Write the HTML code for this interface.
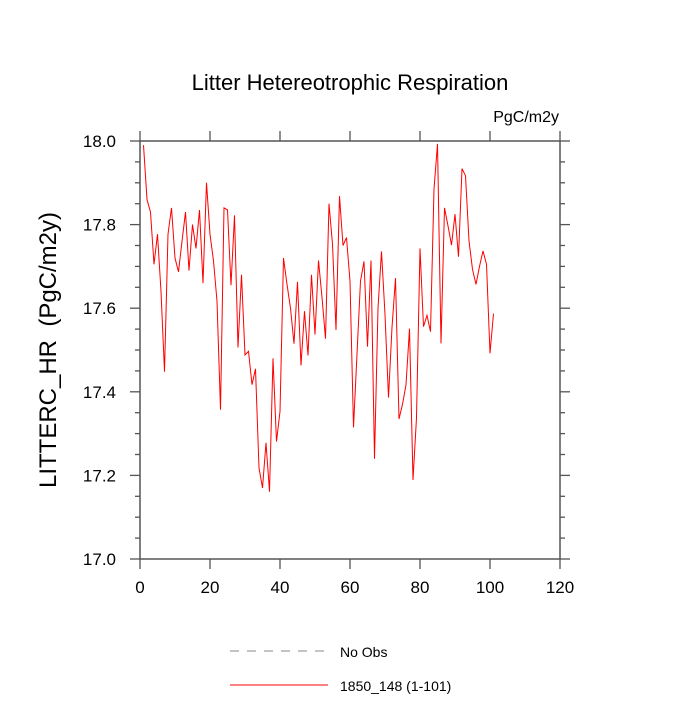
<!DOCTYPE html>
<html><head><meta charset="utf-8"><style>
body{margin:0;background:#fff;}
svg text{font-family:"Liberation Sans",sans-serif;fill:#000;}
</style></head><body>
<svg id="chart" width="700" height="700">
<text x="350" y="90" font-size="22" text-anchor="middle">Litter Hetereotrophic Respiration</text>
<text x="559" y="122" font-size="16" text-anchor="end">PgC/m2y</text>
<text transform="translate(56,350) rotate(-90)" font-size="24" text-anchor="middle">LITTERC_HR&#160;&#160;(PgC/m2y)</text>
<g id="axes"></g>
<g id="series"></g>
<line x1="230" y1="651" x2="328" y2="651" stroke="#888" stroke-width="1" stroke-dasharray="9,8"/>
<text x="340" y="657" font-size="14">No Obs</text>
<line x1="230" y1="685" x2="328" y2="685" stroke="#f00" stroke-width="1"/>
<text x="340" y="691" font-size="14">1850_148 (1-101)</text>
</svg>
<script>
const years = Array.from({length:101},(_,i)=>i+1);
const values = [17.99,17.86,17.83,17.705,17.777,17.64,17.448,17.777,17.84,17.72,17.687,17.76,17.83,17.69,17.80,17.743,17.835,17.66,17.90,17.777,17.713,17.617,17.357,17.84,17.835,17.655,17.822,17.506,17.68,17.488,17.497,17.417,17.455,17.218,17.17,17.278,17.161,17.48,17.281,17.353,17.72,17.657,17.60,17.515,17.663,17.463,17.593,17.487,17.68,17.537,17.714,17.626,17.527,17.85,17.753,17.548,17.868,17.75,17.769,17.665,17.315,17.49,17.665,17.712,17.508,17.714,17.24,17.60,17.736,17.585,17.386,17.554,17.672,17.335,17.37,17.417,17.551,17.189,17.338,17.743,17.556,17.583,17.544,17.885,17.993,17.516,17.84,17.797,17.751,17.825,17.723,17.934,17.917,17.761,17.693,17.657,17.70,17.737,17.705,17.492,17.587];
const xTicks = [0,20,40,60,80,100,120];
const yTicks = [17.0,17.2,17.4,17.6,17.8,18.0];
const yTickLabels = ["17.0","17.2","17.4","17.6","17.8","18.0"];
const L=140,R=560,T=141,B=559,xMin=0,xMax=120,yMin=17,yMax=18;
const sx=v=>L+(v-xMin)/(xMax-xMin)*(R-L);
const sy=v=>B-(v-yMin)/(yMax-yMin)*(B-T);
const NS="http://www.w3.org/2000/svg";
const ax=document.getElementById('axes');
const AC='#555';
function mk(tag,attrs,parent){const e=document.createElementNS(NS,tag);for(const k in attrs)e.setAttribute(k,attrs[k]);parent.appendChild(e);return e;}
const frame=mk('rect',{x:L,y:T,width:R-L,height:B-T,fill:'none',stroke:AC,'stroke-width':1.5},ax);


xTicks.forEach(v=>{
  const x=sx(v);
  mk('line',{x1:x,y1:B,x2:x,y2:B+10,stroke:AC,'stroke-width':1.3},ax);
  mk('line',{x1:x,y1:T,x2:x,y2:T-10,stroke:AC,'stroke-width':1.3},ax);
  const t=mk('text',{x:x,y:B+34,'font-size':17,'text-anchor':'middle'},ax);
  t.textContent=v;
  
  
});
for(let v=17;v<=18.0001;v+=0.05){
  const y=sy(v);const major=Math.abs(v*5-Math.round(v*5))<1e-6;const len=major?10:5;
  mk('line',{x1:L,y1:y,x2:L-len,y2:y,stroke:AC,'stroke-width':1.3},ax);
  mk('line',{x1:R,y1:y,x2:R+len,y2:y,stroke:AC,'stroke-width':1.3},ax);
}
yTicks.forEach((v,i)=>{
  const t=mk('text',{x:L-24,y:sy(v)+6,'font-size':17,'text-anchor':'end'},ax);
  t.textContent=yTickLabels[i];
  
  
});
const pl=mk('polyline',{points:years.map((x,i)=>sx(x)+','+sy(values[i])).join(' '),fill:'none',stroke:'#f00','stroke-width':1},document.getElementById('series'));


</script>
</body></html>
